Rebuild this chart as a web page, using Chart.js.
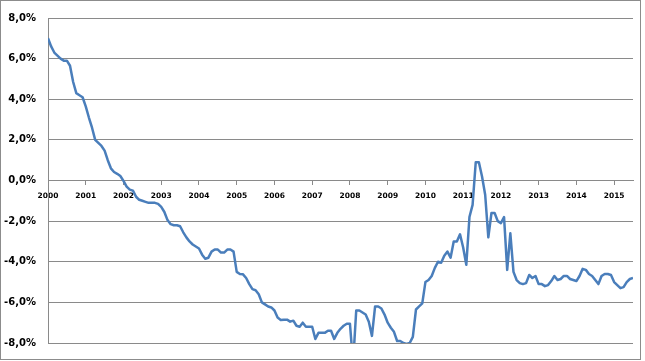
<!DOCTYPE html>
<html lang="en">
<head>
  <meta charset="UTF-8">
  <title>Rate chart</title>
  <script src="https://cdn.jsdelivr.net/npm/chart.js"></script>
  <style>
    * { margin: 0; padding: 0; box-sizing: border-box; }
    html, body { width: 645px; height: 361px; background: white; overflow: hidden; }
    .frame {
      position: absolute; left: 0; top: 0;
      width: 641px; height: 360px;
      border: 1px solid #8c8c8c;
      pointer-events: none;
    }
    .wrap { position: absolute; left: 0; top: 0; width: 645px; height: 361px; }
  </style>
</head>
<body>
  <div class="wrap"><canvas id="rateChart" width="645" height="361"></canvas></div>
  <div class="frame"></div>

  <script>
    // x axis: one label per year, data is monthly from Jan 2000
    const years = ['2000','2001','2002','2003','2004','2005','2006','2007',
                   '2008','2009','2010','2011','2012','2013','2014','2015'];

    // monthly values in %
    const ratePct = [
      7.0, 6.6, 6.3, 6.15, 6.0, 5.9, 5.9, 5.65, 4.85, 4.3, 4.2, 4.1,
      3.65, 3.1, 2.6, 2.0, 1.85, 1.7, 1.47, 1.0, 0.6, 0.42, 0.33, 0.22,
      -0.02, -0.3, -0.45, -0.5, -0.8, -0.95, -1.0, -1.05, -1.1, -1.1, -1.1, -1.15,
      -1.3, -1.55, -1.95, -2.15, -2.2, -2.2, -2.25, -2.55, -2.8, -3.0, -3.15, -3.25,
      -3.35, -3.65, -3.85, -3.8, -3.5, -3.4, -3.4, -3.55, -3.55, -3.4, -3.4, -3.5,
      -4.5, -4.6, -4.62, -4.8, -5.1, -5.35, -5.4, -5.6, -6.0, -6.1, -6.2, -6.25,
      -6.4, -6.75, -6.87, -6.85, -6.85, -6.95, -6.9, -7.15, -7.2, -7.0, -7.2, -7.2,
      -7.2, -7.8, -7.5, -7.5, -7.5, -7.4, -7.4, -7.8, -7.5, -7.3, -7.15, -7.05,
      -7.05, -9.0, -6.4, -6.4, -6.5, -6.6, -6.95, -7.65, -6.2, -6.2, -6.3, -6.6,
      -7.0, -7.25, -7.45, -7.9, -7.9, -8.0, -8.05, -8.0, -7.7, -6.35, -6.2, -6.05,
      -5.0, -4.9, -4.7, -4.3, -4.0, -4.05, -3.7, -3.5, -3.8, -3.0, -3.0, -2.65,
      -3.3, -4.15, -1.8, -1.2, 0.9, 0.9, 0.2, -0.7, -2.8, -1.6, -1.6, -2.0,
      -2.1, -1.8, -4.4, -2.6, -4.5, -4.9, -5.05, -5.1, -5.05, -4.65, -4.8, -4.7,
      -5.1, -5.1, -5.2, -5.15, -4.95, -4.7, -4.9, -4.85, -4.7, -4.7, -4.85, -4.9,
      -4.95, -4.7, -4.35, -4.4, -4.6, -4.7, -4.9, -5.1, -4.7, -4.6, -4.6, -4.65,
      -5.0, -5.15, -5.3, -5.25, -5.0, -4.85, -4.8
    ];

    const yMin = -8, yMax = 8, yStep = 2;

    const points = ratePct.map((v, i) => ({ x: i, y: v }));
    const gridGray = '#8a8a8a';

    const ctx = document.getElementById('rateChart').getContext('2d');
    new Chart(ctx, {
      type: 'line',
      data: {
        datasets: [{
          data: points,
          borderColor: '#4a7ebb',
          borderWidth: 2.5,
          borderJoinStyle: 'round',
          pointRadius: 0,
          tension: 0,
          fill: false
        }]
      },
      options: {
        responsive: false,
        animation: false,
        layout: { padding: { left: 0, top: 13, right: 12, bottom: 14 } },
        plugins: { legend: { display: false }, tooltip: { enabled: false } },
        scales: {
          x: {
            type: 'linear',
            position: { y: 0 },
            min: 0,
            max: ratePct.length - 1,
            afterBuildTicks: (scale) => {
              scale.ticks = scale.ticks.filter(t => t.value % 12 === 0);
            },
            ticks: {
              stepSize: 12,
              includeBounds: false,
              autoSkip: false,
              maxRotation: 0,
              padding: 7,
              color: '#000',
              font: { family: 'DejaVu Sans', size: 7.5, weight: 'bold' },
              callback: (v) => years[v / 12] || ''
            },
            grid: {
              drawOnChartArea: false,
              drawTicks: true,
              tickLength: 4,
              tickColor: gridGray
            },
            border: { color: gridGray, width: 1 }
          },
          y: {
            min: yMin,
            max: yMax,
            afterFit: (scale) => { scale.width = 48; },
            ticks: {
              stepSize: yStep,
              padding: 12,
              color: '#000',
              font: { family: 'DejaVu Sans', size: 10, weight: 'bold' },
              callback: (v) => v.toFixed(1).replace('-0.0', '0.0').replace('.', ',') + '%'
            },
            grid: { color: gridGray, lineWidth: 1, drawTicks: false },
            border: { color: gridGray, width: 1 }
          }
        }
      }
    });
  </script>
</body>
</html>
